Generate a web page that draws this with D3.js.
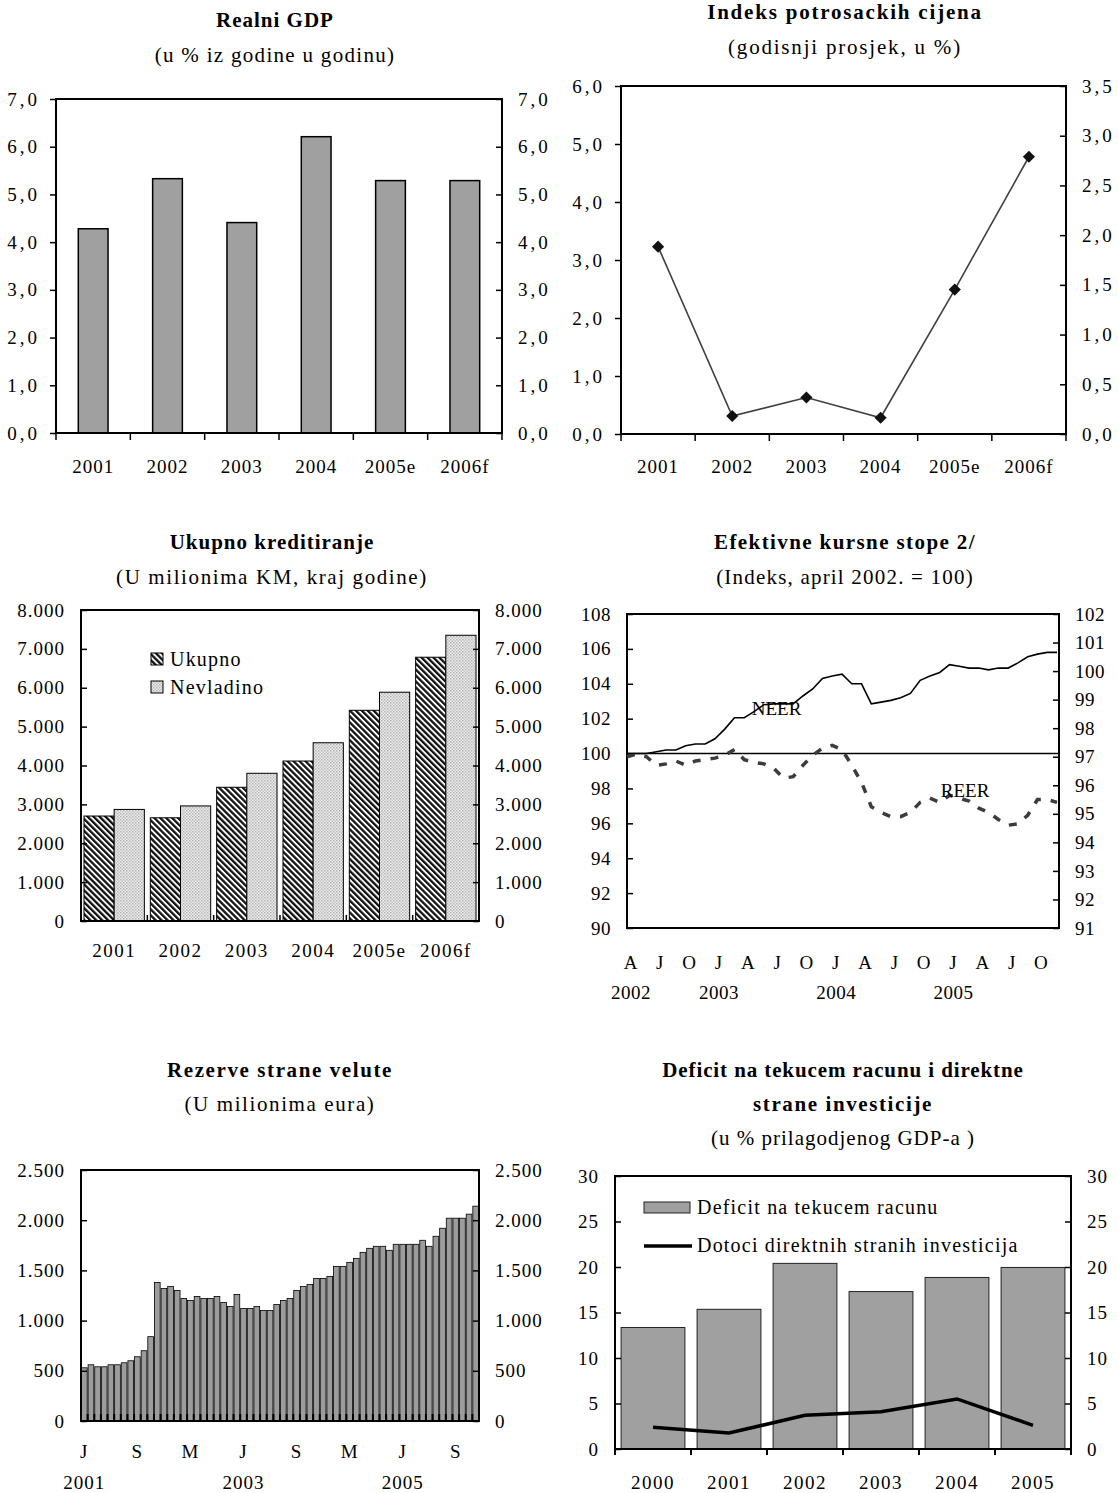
<!DOCTYPE html>
<html>
<head>
<meta charset="utf-8">
<script src="https://cdn.jsdelivr.net/npm/d3@7"></script>
<style>
  body { margin: 0; background: #fff; }
  text { font-family: 'Liberation Serif', 'Times New Roman', serif; fill: #000; }
</style>
</head>
<body>
<script>
// ---- data ----
const yearCats = ['2001', '2002', '2003', '2004', '2005e', '2006f']
const gdpValues = [4.28, 5.33, 4.41, 6.21, 5.29, 5.29]
const cpiValues = [3.23, 0.31, 0.63, 0.28, 2.49, 4.78]
const creditTotal = [2700, 2655, 3440, 4115, 5420, 6785]
const creditNonGov = [2870, 2960, 3800, 4585, 5885, 7350]
const creditSeries = ['Ukupno', 'Nevladino']

// effective exchange rates, monthly Apr 2002 - Dec 2005
const neerValues = [100, 100, 100, 100.1, 100.2, 100.2, 100.45, 100.55, 100.55, 100.85,
  101.4, 102.05, 102.05, 102.4, 102.8, 102.85, 102.85, 102.85, 103.3, 103.7,
  104.3, 104.45, 104.55, 104.0, 104.0, 102.85, 102.95, 103.05, 103.2, 103.45,
  104.2, 104.45, 104.65, 105.1, 105.0, 104.9, 104.9, 104.8, 104.9, 104.9,
  105.2, 105.55, 105.7, 105.8, 105.8]
const reerValues = [97.0, 97.1, 97.0, 96.7, 96.75, 96.85, 96.7, 96.85, 96.9, 96.95,
  97.05, 97.25, 96.9, 96.8, 96.75, 96.6, 96.25, 96.3, 96.7, 97.05,
  97.3, 97.4, 97.25, 96.7, 96.1, 95.25, 95.05, 94.9, 94.9, 95.05,
  95.4, 95.55, 95.4, 95.65, 95.55, 95.45, 95.2, 95.05, 94.8, 94.6,
  94.65, 94.95, 95.5, 95.5, 95.4]
const eerMonthLabels = ['A', 'J', 'O', 'J', 'A', 'J', 'O', 'J', 'A', 'J', 'O', 'J', 'A', 'J', 'O']
const eerMonthIdx = [0, 3, 6, 9, 12, 15, 18, 21, 24, 27, 30, 33, 36, 39, 42]
const eerYearLabels = ['2002', '2003', '2004', '2005']
const eerYearIdx = [0, 9, 21, 33]

// foreign reserves, monthly Jan 2001 - Dec 2005
const reserveValues = [530, 560, 540, 540, 560, 560, 580, 600, 640, 700,
  840, 1380, 1320, 1340, 1300, 1220, 1200, 1240, 1220, 1220,
  1240, 1180, 1140, 1260, 1120, 1120, 1140, 1100, 1100, 1160,
  1200, 1220, 1300, 1340, 1360, 1420, 1420, 1440, 1540, 1540,
  1580, 1620, 1680, 1720, 1740, 1740, 1700, 1760, 1760, 1760,
  1760, 1800, 1740, 1840, 1920, 2020, 2020, 2020, 2060, 2140]
const resMonthLabels = ['J', 'S', 'M', 'J', 'S', 'M', 'J', 'S']
const resMonthIdx = [0, 8, 16, 24, 32, 40, 48, 56]
const resYearLabels = ['2001', '2003', '2005']
const resYearIdx = [0, 24, 48]

// current account deficit and FDI
const cadYears = ['2000', '2001', '2002', '2003', '2004', '2005']
const cadValues = [13.35, 15.35, 20.4, 17.3, 18.85, 19.95]
const fdiValues = [2.4, 1.75, 3.7, 4.1, 5.5, 2.6]

// ---- setup ----
const W = 1118, H = 1493
const svg = d3.select('body').append('svg').attr('width', W).attr('height', H)
svg.append('rect').attr('width', W).attr('height', H).attr('fill', '#fff')

const loc = d3.formatLocale({ decimal: ',', thousands: '.', grouping: [3], currency: ['', ''] })
const fmt1 = loc.format('.1f')
const fmtK = loc.format(',d')
const fmtI = d3.format('d')

const defs = svg.append('defs')
const stripe = defs.append('pattern').attr('id', 'stripe')
  .attr('patternUnits', 'userSpaceOnUse').attr('width', 4.2).attr('height', 4.2)
  .attr('patternTransform', 'rotate(-45)')
stripe.append('rect').attr('width', 4.2).attr('height', 4.2).attr('fill', '#fff')
stripe.append('rect').attr('width', 2.3).attr('height', 4.2).attr('fill', '#111')

const hatch = defs.append('pattern').attr('id', 'hatch')
  .attr('patternUnits', 'userSpaceOnUse').attr('width', 3).attr('height', 3)
hatch.append('rect').attr('width', 3).attr('height', 3).attr('fill', '#ececec')
hatch.append('rect').attr('width', 1.5).attr('height', 1.5).attr('fill', '#b4b4b4')
hatch.append('rect').attr('x', 1.5).attr('y', 1.5).attr('width', 1.5).attr('height', 1.5).attr('fill', '#c4c4c4')

function titles(cx, lines) {
  lines.forEach(l => {
    svg.append('text').attr('x', cx).attr('y', l.y).attr('dy', '0.35em')
      .attr('text-anchor', 'middle')
      .attr('font-size', 21)
      .attr('font-weight', l.bold ? 'bold' : 'normal')
      .attr('letter-spacing', l.ls != null ? l.ls : 1.3)
      .text(l.t)
  })
}

function frame(x0, y0, x1, y1) {
  svg.append('rect').attr('x', x0).attr('y', y0).attr('width', x1 - x0).attr('height', y1 - y0)
    .attr('fill', 'none').attr('stroke', '#000').attr('stroke-width', 2)
}

function yAxis(scale, side, x, ticks, fmt, inward, ls) {
  const axis = (side === 'left' ? d3.axisLeft(scale) : d3.axisRight(scale))
    .tickValues(ticks).tickFormat(fmt).tickSizeOuter(0)
    .tickSizeInner(inward ? -6 : 6).tickPadding(inward ? 16 : 10)
  const a = svg.append('g').attr('transform', `translate(${x},0)`).call(axis)
    .attr('font-family', null).attr('font-size', 19)
  a.select('.domain').remove()
  a.selectAll('line').attr('stroke', '#000').attr('stroke-width', 1.5)
  a.selectAll('text').attr('letter-spacing', ls).attr('fill', '#000')
  return a
}

function bandTicks(xs, y, dir, len, width) {
  const n = xs.domain().length
  const r0 = xs.range()[0]
  svg.append('g').selectAll('line').data(d3.range(n + 1)).join('line')
    .attr('x1', i => r0 + i * xs.step()).attr('x2', i => r0 + i * xs.step())
    .attr('y1', y).attr('y2', y + dir * len)
    .attr('stroke', '#000').attr('stroke-width', width || 1.5)
}

function xLabels(cats, xpos, y, ls) {
  svg.append('g').selectAll('text').data(cats).join('text')
    .attr('x', (d, i) => xpos(d, i)).attr('y', y).attr('dy', '0.35em')
    .attr('text-anchor', 'middle').attr('font-size', 19).attr('letter-spacing', ls || 1)
    .text(d => d)
}

// ---- 1. Realni GDP ----
{
  const x0 = 56, x1 = 502, y0 = 99, y1 = 433
  titles(275, [{ t: 'Realni GDP', y: 20, bold: true, ls: 1 }, { t: '(u % iz godine u godinu)', y: 55 }])
  const x = d3.scaleBand().domain(yearCats).range([x0, x1]).paddingInner(0.6).paddingOuter(0.3)
  const y = d3.scaleLinear().domain([0, 7]).range([y1, y0])
  svg.append('g').selectAll('rect').data(gdpValues).join('rect')
    .attr('x', (d, i) => x(yearCats[i])).attr('width', x.bandwidth())
    .attr('y', d => y(d)).attr('height', d => y(0) - y(d))
    .attr('fill', '#a0a0a0').attr('stroke', '#000').attr('stroke-width', 1.5)
  frame(x0, y0, x1, y1)
  const ticks = d3.range(0, 8)
  yAxis(y, 'left', x0, ticks, fmt1, false, 3)
  yAxis(y, 'right', x1, ticks, fmt1, true, 3)
  bandTicks(x, y1, 1, 7)
  xLabels(yearCats, d => x(d) + x.bandwidth() / 2, 466, 1)
}

// ---- 2. Indeks potrosackih cijena ----
{
  const x0 = 621, x1 = 1066, y0 = 86, y1 = 434
  titles(845, [{ t: 'Indeks potrosackih cijena', y: 12, bold: true, ls: 1.8 }, { t: '(godisnji prosjek, u %)', y: 47, ls: 1.8 }])
  const x = d3.scaleBand().domain(yearCats).range([x0, x1])
  const y = d3.scaleLinear().domain([0, 6]).range([y1, y0])
  const yR = d3.scaleLinear().domain([0, 3.5]).range([y1, y0])
  frame(x0, y0, x1, y1)
  yAxis(y, 'left', x0, d3.range(0, 7), fmt1, false, 3)
  yAxis(yR, 'right', x1, d3.range(0, 3.51, 0.5), fmt1, true, 3)
  bandTicks(x, y1, 1, 7)
  const cx = (d, i) => x(yearCats[i]) + x.bandwidth() / 2
  svg.append('path').datum(cpiValues)
    .attr('d', d3.line().x(cx).y(d => y(d)))
    .attr('fill', 'none').attr('stroke', '#404040').attr('stroke-width', 1.6)
  svg.append('g').selectAll('path').data(cpiValues).join('path')
    .attr('d', d3.symbol(d3.symbolSquare, 74))
    .attr('transform', (d, i) => `translate(${cx(d, i)},${y(d)}) rotate(45)`)
    .attr('fill', '#111')
  xLabels(yearCats, d => x(d) + x.bandwidth() / 2, 466, 1)
}

// ---- 3. Ukupno kreditiranje ----
{
  const x0 = 81, x1 = 479, y0 = 610, y1 = 921
  titles(272, [{ t: 'Ukupno kreditiranje', y: 542, bold: true, ls: 1 }, { t: '(U milionima KM, kraj godine)', y: 577, ls: 1.6 }])
  const x = d3.scaleBand().domain(yearCats).range([x0, x1]).paddingInner(0.09).paddingOuter(0.045)
  const xs = d3.scaleBand().domain(creditSeries).range([0, x.bandwidth()])
  const y = d3.scaleLinear().domain([0, 8000]).range([y1, y0])
  const fills = { Ukupno: 'url(#stripe)', Nevladino: 'url(#hatch)' }
  const series = { Ukupno: creditTotal, Nevladino: creditNonGov }
  creditSeries.forEach(s => {
    svg.append('g').selectAll('rect').data(series[s]).join('rect')
      .attr('x', (d, i) => x(yearCats[i]) + xs(s)).attr('width', xs.bandwidth())
      .attr('y', d => y(d)).attr('height', d => y(0) - y(d))
      .attr('fill', fills[s]).attr('stroke', '#000').attr('stroke-width', 1)
  })
  frame(x0, y0, x1, y1)
  const ticks = d3.range(0, 8001, 1000)
  yAxis(y, 'left', x0, ticks, fmtK, true, 1)
  yAxis(y, 'right', x1, ticks, fmtK, true, 1)
  const bandBound = d3.scaleBand().domain(yearCats).range([x0, x1])
  bandTicks(bandBound, y1, -1, 6)
  xLabels(yearCats, d => x(d) + x.bandwidth() / 2, 950, 1.5)
  // legend
  creditSeries.forEach((s, i) => {
    const ly = 659 + i * 28
    svg.append('rect').attr('x', 151).attr('y', ly - 6).attr('width', 12).attr('height', 12)
      .attr('fill', fills[s]).attr('stroke', '#000').attr('stroke-width', 1)
    svg.append('text').attr('x', 170).attr('y', ly).attr('dy', '0.35em')
      .attr('font-size', 20).attr('letter-spacing', 1.2).text(s)
  })
}

// ---- 4. Efektivne kursne stope ----
{
  const x0 = 627, x1 = 1059, y0 = 614, y1 = 928
  titles(845, [{ t: 'Efektivne kursne stope 2/', y: 542, bold: true, ls: 1.4 }, { t: '(Indeks, april 2002. = 100)', y: 577, ls: 1.2 }])
  const x = d3.scaleLinear().domain([0, neerValues.length - 1]).range([x0, x1 - 2])
  const yL = d3.scaleLinear().domain([90, 108]).range([y1, y0])
  const yR = d3.scaleLinear().domain([91, 102]).range([y1, y0])
  frame(x0, y0, x1, y1)
  yAxis(yL, 'left', x0, d3.range(90, 109, 2), fmtI, true, 0.5)
  yAxis(yR, 'right', x1, d3.range(91, 103, 1), fmtI, true, 0.5)
  svg.append('line').attr('x1', x0).attr('x2', x1).attr('y1', yL(100)).attr('y2', yL(100))
    .attr('stroke', '#000').attr('stroke-width', 1.6)
  svg.append('path').datum(reerValues)
    .attr('d', d3.line().x((d, i) => x(i)).y(d => yR(d)))
    .attr('fill', 'none').attr('stroke', '#3c3c3c').attr('stroke-width', 3.5)
    .attr('stroke-dasharray', '8,10')
  svg.append('path').datum(neerValues)
    .attr('d', d3.line().x((d, i) => x(i)).y(d => yL(d)))
    .attr('fill', 'none').attr('stroke', '#000').attr('stroke-width', 1.6)
  svg.append('text').attr('x', x(15.3)).attr('y', yL(102.6)).attr('dy', '0.35em')
    .attr('text-anchor', 'middle').attr('font-size', 19).text('NEER')
  svg.append('text').attr('x', x(34.6)).attr('y', yL(97.9)).attr('dy', '0.35em')
    .attr('text-anchor', 'middle').attr('font-size', 19).text('REER')
  xLabels(eerMonthLabels, (d, i) => x(eerMonthIdx[i]) + 4, 962, 0)
  xLabels(eerYearLabels, (d, i) => x(eerYearIdx[i]) + 4, 992, 0.5)
}

// ---- 5. Rezerve strane valute ----
{
  const x0 = 81, x1 = 479, y0 = 1170, y1 = 1421
  titles(280, [{ t: 'Rezerve strane velute', y: 1070, bold: true, ls: 1.6 }, { t: '(U milionima eura)', y: 1104, ls: 1.6 }])
  const months = d3.range(reserveValues.length)
  const x = d3.scaleBand().domain(months).range([x0, x1]).paddingInner(0.14).paddingOuter(0.07)
  const xb = d3.scaleBand().domain(months).range([x0, x1])
  const y = d3.scaleLinear().domain([0, 2500]).range([y1, y0])
  svg.append('g').selectAll('rect').data(reserveValues).join('rect')
    .attr('x', (d, i) => x(i)).attr('width', x.bandwidth())
    .attr('y', d => y(d)).attr('height', d => y(0) - y(d))
    .attr('fill', '#9c9c9c').attr('stroke', '#000').attr('stroke-width', 0.8)
  bandTicks(xb, y1, -1, 7, 2)
  frame(x0, y0, x1, y1)
  const ticks = d3.range(0, 2501, 500)
  yAxis(y, 'left', x0, ticks, fmtK, true, 1)
  yAxis(y, 'right', x1, ticks, fmtK, true, 1)
  xLabels(resMonthLabels, (d, i) => xb(resMonthIdx[i]) + xb.bandwidth() / 2, 1451, 0)
  xLabels(resYearLabels, (d, i) => xb(resYearIdx[i]) + xb.bandwidth() / 2, 1482, 1)
}

// ---- 6. Deficit na tekucem racunu ----
{
  const x0 = 615, x1 = 1071, y0 = 1176, y1 = 1449
  titles(843, [
    { t: 'Deficit na tekucem racunu i direktne', y: 1070, bold: true, ls: 0.9 },
    { t: 'strane investicije', y: 1104, bold: true, ls: 1.6 },
    { t: '(u % prilagodjenog GDP-a )', y: 1138, ls: 1 }
  ])
  const x = d3.scaleBand().domain(cadYears).range([x0, x1]).paddingInner(0.16).paddingOuter(0.08)
  const xb = d3.scaleBand().domain(cadYears).range([x0, x1])
  const y = d3.scaleLinear().domain([0, 30]).range([y1, y0])
  svg.append('g').selectAll('rect').data(cadValues).join('rect')
    .attr('x', (d, i) => x(cadYears[i])).attr('width', x.bandwidth())
    .attr('y', d => y(d)).attr('height', d => y(0) - y(d))
    .attr('fill', '#a0a0a0').attr('stroke', '#222').attr('stroke-width', 1)
  svg.append('path').datum(fdiValues)
    .attr('d', d3.line().x((d, i) => xb(cadYears[i]) + xb.bandwidth() / 2).y(d => y(d)))
    .attr('fill', 'none').attr('stroke', '#000').attr('stroke-width', 3.5)
  frame(x0, y0, x1, y1)
  const ticks = d3.range(0, 31, 5)
  yAxis(y, 'left', x0, ticks, fmtI, true, 1)
  yAxis(y, 'right', x1, ticks, fmtI, true, 1)
  bandTicks(xb, y1, 1, 6, 2)
  xLabels(cadYears, d => xb(d) + xb.bandwidth() / 2, 1482, 1.5)
  // legend
  svg.append('rect').attr('x', 644).attr('y', 1202).attr('width', 46).attr('height', 11)
    .attr('fill', '#a0a0a0').attr('stroke', '#222').attr('stroke-width', 1)
  svg.append('text').attr('x', 697).attr('y', 1207).attr('dy', '0.35em')
    .attr('font-size', 20).attr('letter-spacing', 1.2).text('Deficit na tekucem racunu')
  svg.append('line').attr('x1', 644).attr('x2', 692).attr('y1', 1246).attr('y2', 1246)
    .attr('stroke', '#000').attr('stroke-width', 3.5)
  svg.append('text').attr('x', 697).attr('y', 1245).attr('dy', '0.35em')
    .attr('font-size', 20).attr('letter-spacing', 1.2).text('Dotoci direktnih stranih investicija')
}
</script>
</body>
</html>
